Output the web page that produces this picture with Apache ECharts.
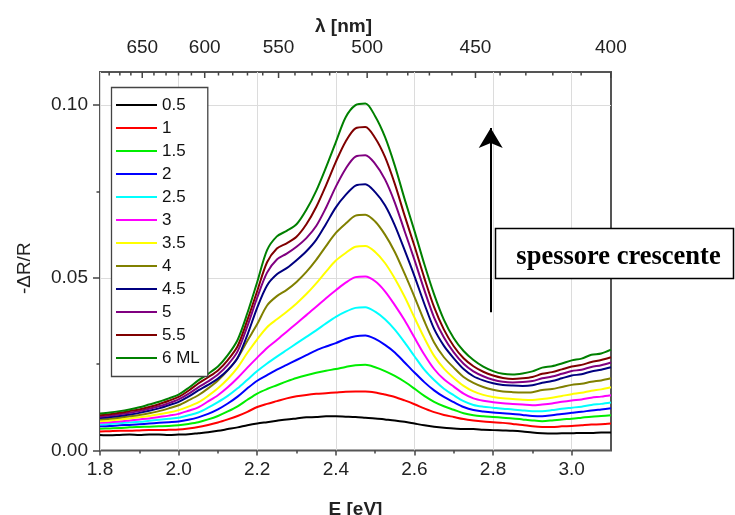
<!DOCTYPE html>
<html>
<head>
<meta charset="utf-8">
<script src="https://cdn.jsdelivr.net/npm/echarts@6/dist/echarts.min.js"></script>
<style>
  html, body { margin: 0; padding: 0; background: #fff; }
  #chart { width: 735px; height: 515px; }
</style>
</head>
<body>
<div id="chart"></div>
<script>
// Photon energy grid (eV)
const energy = [
  1.800, 1.825, 1.850, 1.875, 1.900, 1.925, 1.950, 1.975, 2.000,
  2.025, 2.050, 2.075, 2.100, 2.125, 2.150, 2.175, 2.200,
  2.225, 2.250, 2.275, 2.300, 2.325, 2.350, 2.375, 2.400,
  2.425, 2.450, 2.475, 2.500, 2.525, 2.550, 2.575, 2.600,
  2.625, 2.650, 2.675, 2.700, 2.725, 2.750, 2.775, 2.800,
  2.825, 2.850, 2.875, 2.900, 2.925, 2.950, 2.975, 3.000,
  3.025, 3.050, 3.075, 3.100
];

// -dR/R spectra, one per deposited thickness (ML)
const s05 = [0.0045,0.0044,0.0045,0.0046,0.0045,0.0046,0.0046,0.0045,0.0046, 0.0047,0.0050,0.0053,0.0057,0.0062,0.0067,0.0073,0.0078, 0.0082,0.0086,0.0090,0.0093,0.0096,0.0097,0.0099,0.0099, 0.0098,0.0097,0.0095,0.0093,0.0090,0.0087,0.0083,0.0078, 0.0073,0.0069,0.0066,0.0064,0.0062,0.0062,0.0060,0.0059, 0.0058,0.0057,0.0055,0.0052,0.0050,0.0049,0.0050,0.0050, 0.0051,0.0051,0.0052,0.0052];
const s1 = [0.0055,0.0056,0.0057,0.0057,0.0058,0.0059,0.0059,0.0060,0.0061, 0.0064,0.0068,0.0074,0.0081,0.0090,0.0100,0.0112,0.0126, 0.0135,0.0143,0.0151,0.0157,0.0161,0.0164,0.0166,0.0168, 0.0170,0.0171,0.0171,0.0168,0.0162,0.0155,0.0145,0.0134, 0.0122,0.0111,0.0103,0.0097,0.0091,0.0087,0.0084,0.0082, 0.0080,0.0077,0.0074,0.0070,0.0068,0.0068,0.0070,0.0071, 0.0073,0.0075,0.0076,0.0078];
const s15 = [0.0063,0.0064,0.0065,0.0067,0.0068,0.0069,0.0070,0.0071,0.0073, 0.0077,0.0082,0.0090,0.0100,0.0113,0.0128,0.0147,0.0165, 0.0178,0.0189,0.0200,0.0210,0.0218,0.0225,0.0231,0.0236, 0.0242,0.0247,0.0248,0.0241,0.0230,0.0216,0.0199,0.0179, 0.0158,0.0141,0.0128,0.0118,0.0108,0.0102,0.0099,0.0097, 0.0095,0.0093,0.0090,0.0087,0.0085,0.0087,0.0090,0.0092, 0.0095,0.0098,0.0100,0.0102];
const s2 = [0.0070,0.0071,0.0073,0.0074,0.0076,0.0078,0.0080,0.0082,0.0084, 0.0089,0.0096,0.0106,0.0119,0.0136,0.0156,0.0180,0.0202, 0.0218,0.0234,0.0248,0.0262,0.0276,0.0290,0.0301,0.0311, 0.0323,0.0331,0.0333,0.0323,0.0306,0.0284,0.0255,0.0226, 0.0198,0.0174,0.0155,0.0140,0.0126,0.0117,0.0113,0.0110, 0.0108,0.0106,0.0103,0.0100,0.0099,0.0102,0.0106,0.0109, 0.0112,0.0116,0.0119,0.0122];
const s25 = [0.0075,0.0077,0.0079,0.0081,0.0083,0.0086,0.0089,0.0092,0.0095, 0.0102,0.0110,0.0124,0.0140,0.0158,0.0180,0.0205,0.0230, 0.0252,0.0272,0.0291,0.0310,0.0329,0.0348,0.0368,0.0387, 0.0402,0.0413,0.0415,0.0402,0.0380,0.0350,0.0313,0.0273, 0.0234,0.0204,0.0179,0.0160,0.0143,0.0132,0.0127,0.0124, 0.0121,0.0119,0.0116,0.0114,0.0114,0.0117,0.0121,0.0124, 0.0127,0.0132,0.0135,0.0139];
const s3 = [0.0080,0.0082,0.0084,0.0087,0.0090,0.0093,0.0097,0.0101,0.0106, 0.0115,0.0125,0.0142,0.0160,0.0183,0.0210,0.0240,0.0269, 0.0297,0.0320,0.0344,0.0368,0.0392,0.0416,0.0441,0.0464, 0.0486,0.0502,0.0504,0.0490,0.0461,0.0421,0.0377,0.0327, 0.0278,0.0236,0.0206,0.0185,0.0165,0.0151,0.0144,0.0140, 0.0137,0.0135,0.0133,0.0131,0.0133,0.0136,0.0141,0.0145, 0.0148,0.0153,0.0156,0.0160];
const s35 = [0.0085,0.0087,0.0090,0.0093,0.0096,0.0100,0.0105,0.0110,0.0117, 0.0127,0.0139,0.0158,0.0180,0.0207,0.0240,0.0283,0.0322, 0.0357,0.0380,0.0402,0.0426,0.0453,0.0484,0.0518,0.0550, 0.0572,0.0590,0.0592,0.0575,0.0543,0.0498,0.0445,0.0385, 0.0326,0.0274,0.0237,0.0210,0.0187,0.0171,0.0161,0.0155, 0.0151,0.0149,0.0147,0.0146,0.0149,0.0153,0.0158,0.0163, 0.0167,0.0173,0.0177,0.0183];
const s4 = [0.0090,0.0092,0.0095,0.0099,0.0103,0.0108,0.0114,0.0122,0.0131, 0.0145,0.0160,0.0180,0.0203,0.0232,0.0268,0.0318,0.0366, 0.0420,0.0447,0.0465,0.0488,0.0517,0.0552,0.0592,0.0630, 0.0657,0.0680,0.0683,0.0663,0.0625,0.0575,0.0512,0.0445, 0.0375,0.0313,0.0270,0.0240,0.0213,0.0196,0.0184,0.0176, 0.0171,0.0169,0.0168,0.0169,0.0175,0.0178,0.0184,0.0190, 0.0193,0.0199,0.0203,0.0209];
const s45 = [0.0094,0.0097,0.0100,0.0104,0.0109,0.0115,0.0122,0.0131,0.0141, 0.0156,0.0174,0.0190,0.0208,0.0233,0.0268,0.0335,0.0414, 0.0478,0.0510,0.0528,0.0551,0.0577,0.0610,0.0656,0.0704, 0.0740,0.0767,0.0771,0.0748,0.0710,0.0652,0.0580,0.0505, 0.0425,0.0352,0.0303,0.0267,0.0236,0.0215,0.0203,0.0195, 0.0190,0.0188,0.0187,0.0189,0.0196,0.0201,0.0209,0.0217, 0.0221,0.0229,0.0234,0.0241];
const s5 = [0.0098,0.0101,0.0105,0.0109,0.0114,0.0121,0.0128,0.0137,0.0148, 0.0164,0.0183,0.0200,0.0220,0.0248,0.0287,0.0360,0.0443, 0.0515,0.0553,0.0570,0.0590,0.0615,0.0650,0.0703,0.0764, 0.0816,0.0851,0.0855,0.0830,0.0785,0.0718,0.0635,0.0552, 0.0465,0.0385,0.0327,0.0284,0.0251,0.0229,0.0215,0.0205, 0.0199,0.0197,0.0198,0.0201,0.0209,0.0214,0.0222,0.0230, 0.0234,0.0242,0.0247,0.0255];
const s55 = [0.0102,0.0105,0.0109,0.0114,0.0119,0.0126,0.0134,0.0144,0.0155, 0.0173,0.0194,0.0212,0.0232,0.0262,0.0302,0.0378,0.0462, 0.0545,0.0585,0.0600,0.0619,0.0655,0.0705,0.0768,0.0836, 0.0895,0.0933,0.0937,0.0905,0.0850,0.0772,0.0680,0.0592, 0.0500,0.0415,0.0350,0.0302,0.0267,0.0244,0.0228,0.0217, 0.0210,0.0207,0.0209,0.0213,0.0222,0.0227,0.0235,0.0243, 0.0248,0.0256,0.0262,0.0270];
const s6 = [0.0107,0.0110,0.0114,0.0119,0.0125,0.0133,0.0141,0.0151,0.0162, 0.0181,0.0203,0.0222,0.0243,0.0276,0.0320,0.0398,0.0488, 0.0580,0.0620,0.0636,0.0655,0.0697,0.0752,0.0820,0.0893, 0.0965,0.1000,0.1005,0.0968,0.0908,0.0825,0.0728,0.0636, 0.0540,0.0452,0.0378,0.0325,0.0288,0.0262,0.0243,0.0230, 0.0222,0.0220,0.0223,0.0229,0.0240,0.0244,0.0252,0.0261, 0.0266,0.0277,0.0281,0.0292];

const seriesNames = ['0.5', '1', '1.5', '2', '2.5', '3', '3.5', '4', '4.5', '5', '5.5', '6 ML'];
const seriesValues = [s05, s1, s15, s2, s25, s3, s35, s4, s45, s5, s55, s6];
const seriesColors = ['#000000', '#ff0000', '#00ee00', '#0000ff', '#00ffff', '#ff00ff',
                      '#ffff00', '#808000', '#000080', '#800080', '#800000', '#008000'];

// Tick labels
const energyTicks = [1.8, 2.0, 2.2, 2.4, 2.6, 2.8, 3.0];
const energyMinorTicks = [1.9, 2.1, 2.3, 2.5, 2.7, 2.9];
const signalTicks = [0, 0.05, 0.10];
const signalMinorTicks = [0.025, 0.075];
const signalGrid = [0.05, 0.10];
const lambdaMajor = [650, 600, 550, 500, 450, 400];
const lambdaMinor = [680, 670, 660, 640, 630, 620, 610, 590, 580, 570, 560, 540, 530,
                     520, 510, 490, 480, 470, 460, 440, 430, 420, 410];

const HC = 1239.84;            // eV*nm, converts wavelength to photon energy
const E_MIN = 1.8, E_MAX = 3.1;
const Y_MIN = 0, Y_MAX = 0.1096;

// Arrow marking increasing thickness, in data coordinates
const arrowE = 2.794;
const arrowFrom = 0.0400;
const arrowTo = 0.0934;

const FONT = '"Liberation Sans", Arial, Helvetica, sans-serif';
const TEXT = '#222';
const AXIS = '#555';

const chart = echarts.init(document.getElementById('chart'), null, { renderer: 'canvas' });

const lineSeries = seriesNames.map((name, k) => ({
  name: name,
  type: 'line',
  xAxisIndex: 0,
  yAxisIndex: 0,
  showSymbol: false,
  symbol: 'none',
  smooth: 0.3,
  data: energy.map((e, i) => [e, seriesValues[k][i]]),
  lineStyle: { color: seriesColors[k], width: 2 },
  itemStyle: { color: seriesColors[k] },
  z: 3 + k
}));

// Horizontal grid lines at the labelled signal values
lineSeries[0].markLine = {
  silent: true,
  symbol: ['none', 'none'],
  label: { show: false },
  lineStyle: { color: '#dcdcdc', width: 1, type: 'solid' },
  data: signalGrid.map(v => ({ yAxis: v }))
};

lineSeries[lineSeries.length - 1].markLine = {
  silent: true,
  symbol: ['none', 'arrow'],
  symbolSize: [18, 20],
  label: { show: false },
  lineStyle: { color: '#000', width: 2, type: 'solid' },
  data: [[{ coord: [arrowE, arrowFrom] }, { coord: [arrowE, arrowTo] }]]
};

// Wavelength scale along the top edge, placed through the energy axis
const lambdaItems = lambdaMajor.map(l => [HC / l, l, 1])
  .concat(lambdaMinor.map(l => [HC / l, l, 0]));

const topAxisSeries = {
  type: 'custom',
  name: 'lambda',
  xAxisIndex: 1,
  yAxisIndex: 0,
  clip: false,
  silent: true,
  z: 20,
  data: lambdaItems,
  renderItem: function (params, api) {
    const major = api.value(2) === 1;
    const p = api.coord([api.value(0), Y_MAX]);
    const children = [{
      type: 'line',
      shape: { x1: p[0], y1: p[1], x2: p[0], y2: p[1] + (major ? 6 : 3.5) },
      style: { stroke: '#444', lineWidth: 1.5 }
    }];
    if (major) {
      children.push({
        type: 'text',
        style: {
          text: String(api.value(1)), x: p[0], y: p[1] - 15,
          align: 'center', verticalAlign: 'bottom',
          font: '19px ' + FONT, fill: TEXT
        }
      });
    }
    return { type: 'group', children: children };
  }
};

const option = {
  animation: false,
  backgroundColor: '#fff',
  grid: {
    left: 100, right: 124, top: 72, bottom: 64.5,
    outerBoundsMode: 'none', containLabel: false,
    show: true, borderColor: AXIS, borderWidth: 2, backgroundColor: 'transparent'
  },
  legend: {
    data: seriesNames,
    orient: 'vertical',
    left: 111.5, top: 87.5,
    z: 50,
    padding: [9, 8, 10, 4.5],
    itemGap: 6,
    itemWidth: 41,
    itemHeight: 2,
    icon: 'rect',
    backgroundColor: '#fff',
    borderColor: '#444',
    borderWidth: 1.3,
    textStyle: { fontFamily: FONT, fontSize: 17, lineHeight: 17, color: '#111' }
  },
  xAxis: [
    {
      type: 'value', position: 'bottom', min: E_MIN, max: E_MAX, interval: 0.2,
      name: 'E [eV]', nameLocation: 'middle', nameGap: 50,
      nameTextStyle: { fontFamily: FONT, fontSize: 19, fontWeight: 'bold', color: TEXT },
      axisLine: { show: false },
      axisTick: { show: true, inside: false, length: 5, customValues: energyTicks,
                  lineStyle: { color: '#444', width: 1.5 } },
      axisLabel: { show: true, customValues: energyTicks, margin: 10,
                   formatter: v => v.toFixed(1),
                   fontFamily: FONT, fontSize: 19, color: TEXT },
      splitLine: { show: true, lineStyle: { color: '#dcdcdc', width: 1 } }
    },
    {
      type: 'value', position: 'top', min: E_MIN, max: E_MAX,
      name: 'λ [nm]', nameLocation: 'middle', nameGap: 36,
      nameTextStyle: { fontFamily: FONT, fontSize: 19, fontWeight: 'bold', color: TEXT,
                       padding: [0, 24, 0, 0] },
      axisLine: { show: false },
      axisTick: { show: false },
      axisLabel: { show: false },
      splitLine: { show: false }
    },
    {
      type: 'value', position: 'bottom', min: E_MIN, max: E_MAX, interval: 0.1,
      axisLine: { show: false },
      axisTick: { show: true, inside: false, length: 3, customValues: energyMinorTicks,
                  lineStyle: { color: '#444', width: 1.5 } },
      axisLabel: { show: false },
      splitLine: { show: false }
    }
  ],
  yAxis: [
    {
      type: 'value', position: 'left', min: Y_MIN, max: Y_MAX,
      name: '-ΔR/R', nameLocation: 'middle', nameGap: 66, nameRotate: 90,
      nameTextStyle: { fontFamily: FONT, fontSize: 19, color: TEXT, padding: [0, 14, 0, 0] },
      axisLine: { show: false },
      axisTick: { show: true, inside: false, length: 7, customValues: signalTicks,
                  lineStyle: { color: '#444', width: 1.5 } },
      axisLabel: { show: true, customValues: signalTicks, margin: 12,
                   formatter: v => v.toFixed(2),
                   fontFamily: FONT, fontSize: 19, color: TEXT },
      splitLine: { show: false }
    },
    {
      type: 'value', position: 'left', min: Y_MIN, max: Y_MAX,
      axisLine: { show: false },
      axisTick: { show: true, inside: false, length: 3.5, customValues: signalMinorTicks,
                  lineStyle: { color: '#444', width: 1.5 } },
      axisLabel: { show: false },
      splitLine: { show: false }
    }
  ],
  graphic: [
    {
      type: 'rect', z: 100,
      shape: { x: 495.5, y: 228.5, width: 238, height: 50 },
      style: { fill: '#fff', stroke: '#000', lineWidth: 1.5 }
    },
    {
      type: 'text', z: 101, x: 618.5, y: 257,
      style: {
        text: 'spessore crescente', align: 'center', verticalAlign: 'middle',
        font: 'bold 26.5px "Liberation Serif", "Times New Roman", serif', fill: '#000'
      }
    }
  ],
  series: lineSeries.concat([topAxisSeries])
};

chart.setOption(option);
</script>
</body>
</html>
